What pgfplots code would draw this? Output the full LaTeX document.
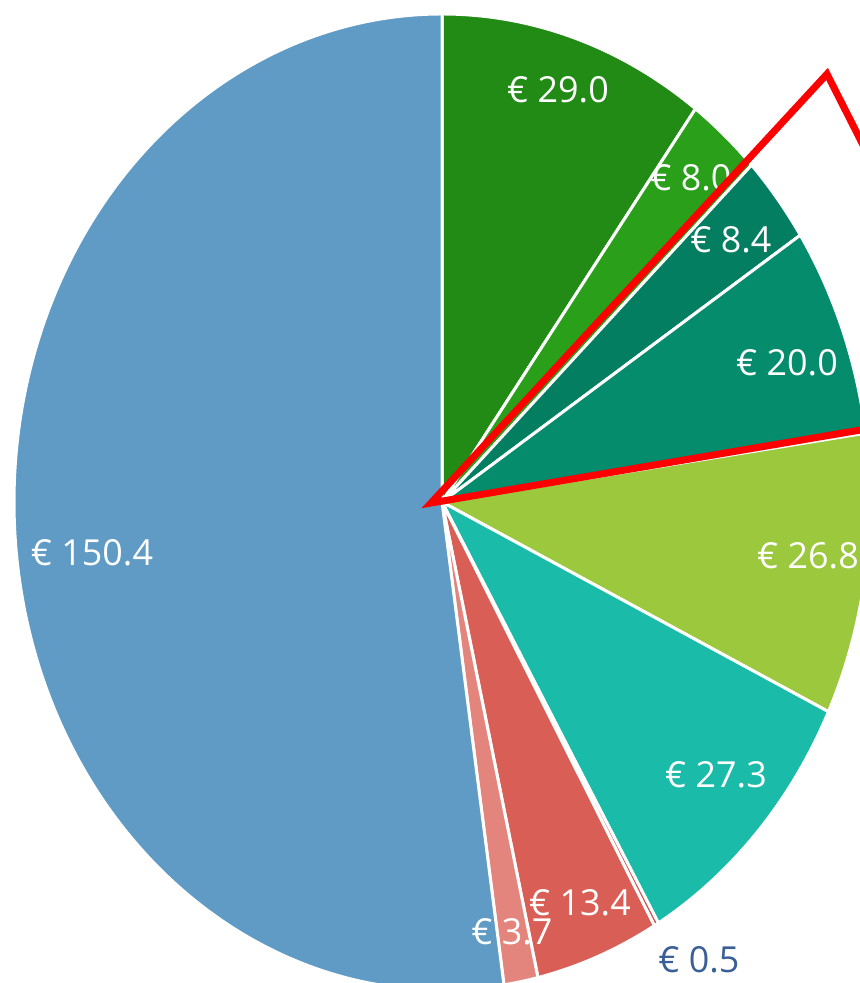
\documentclass[border=0pt]{standalone}
\usepackage{pgfplots}
\pgfplotsset{compat=1.18}
\usepackage{fontspec}
\setmainfont{Open Sans}
\definecolor{cA}{RGB}{34,139,22}
\definecolor{cB}{RGB}{42,160,26}
\definecolor{cC}{RGB}{4,126,96}
\definecolor{cD}{RGB}{4,140,108}
\definecolor{cE}{RGB}{155,200,60}
\definecolor{cF}{RGB}{26,187,168}
\definecolor{cG}{RGB}{205,85,80}
\definecolor{cH}{RGB}{217,94,86}
\definecolor{cI}{RGB}{227,133,124}
\definecolor{cJ}{RGB}{95,155,196}
\definecolor{lblblue}{RGB}{58,94,150}
\newcommand\pa[1]{\csname pa#1\endcsname}
\newcommand\piewedge[3]{%
  \fill[#1,draw=white,line width=3bp,line join=round]
    (axis cs:442,481) -- ++(\pa{#2}:428bp and 488bp)
    arc[start angle=\pa{#2}, end angle=\pa{#3}, x radius=428bp, y radius=488bp] -- cycle;}
\begin{document}
\begin{tikzpicture}
% data values (clockwise from the top)
\gdef\tot{0}%
\foreach \v in {29.0,8.0,8.4,20.0,26.8,27.3,0.5,13.4,3.7,150.4}{%
  \pgfmathsetmacro\new{\tot+\v}\global\let\tot\new}%
\gdef\cum{0}%
\expandafter\gdef\csname pa0\endcsname{90}%
\foreach \v [count=\i] in {29.0,8.0,8.4,20.0,26.8,27.3,0.5,13.4,3.7,150.4}{%
  \pgfmathsetmacro\new{\cum+\v}\global\let\cum\new
  \pgfmathsetmacro\ang{90-(\new/\tot)*360}%
  \expandafter\xdef\csname pa\i\endcsname{\ang}}%
\begin{axis}[x=1bp,y=1bp,xmin=0,xmax=860,ymin=0,ymax=983,hide axis,clip=true]
\coordinate (BL) at (axis cs:0,0);
\coordinate (TR) at (axis cs:860,983);
\piewedge{cA}{0}{1}
\piewedge{cB}{1}{2}
\piewedge{cC}{2}{3}
\piewedge{cD}{3}{4}
\piewedge{cE}{4}{5}
\piewedge{cF}{5}{6}
\piewedge{cG}{6}{7}
\piewedge{cH}{7}{8}
\piewedge{cI}{8}{9}
\piewedge{cJ}{9}{10}
\begin{scope}[every node/.style={font=\fontsize{36}{40}\selectfont,text=white,inner sep=0pt}]
\node at (axis cs:558,893) {€ 29.0};
\node at (axis cs:691,805) {€ 8.0};
\node at (axis cs:731,743) {€ 8.4};
\node at (axis cs:787,620) {€ 20.0};
\node at (axis cs:808,427) {€ 26.8};
\node at (axis cs:716,208) {€ 27.3};
\node at (axis cs:580,80) {€ 13.4};
\node at (axis cs:512,51) {€ 3.7};
\node[text=lblblue] at (axis cs:699,23) {€ 0.5};
\node at (axis cs:92,430) {€ 150.4};
\end{scope}
\addplot[red,line width=7bp,line join=miter,mark=none] coordinates {(996,576) (431,480) (827,909) (996,576)};
\end{axis}
\pgfresetboundingbox
\path[use as bounding box] (BL) rectangle (TR);
\end{tikzpicture}
\end{document}
